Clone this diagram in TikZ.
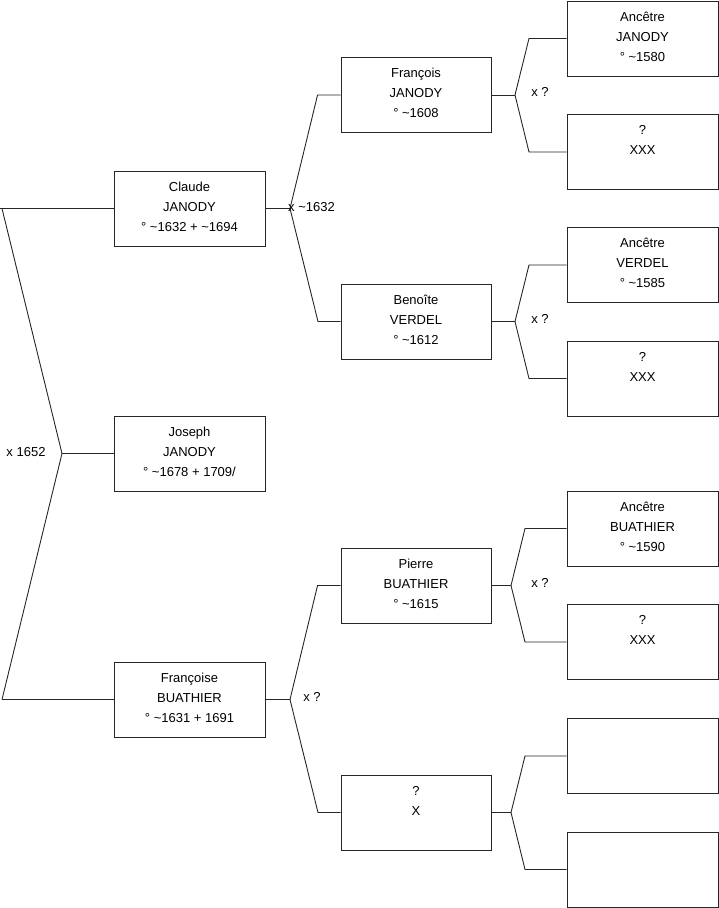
\documentclass[tikz,border=0pt]{standalone}
\usepackage{fontspec}
\setmainfont{Liberation Sans}
\begin{document}
\begin{tikzpicture}[x=1pt,y=-1pt,
  person/.style={draw=black!85, line width=0.9pt, rectangle, minimum width=151pt, minimum height=75pt, align=center, inner sep=0pt, text depth=4pt, font=\fontsize{13}{20}\selectfont},
  link/.style={draw=black!85, line width=0.9pt},
  lbl/.style={font=\fontsize{13}{15}\selectfont, inner sep=0pt}]
\useasboundingbox (0,0) rectangle (719,908);
% generation 1
\node[person] (claude) at (189.5,208.5) {Claude\\JANODY\\° \textasciitilde1632 + \textasciitilde1694};
\node[person] (joseph) at (189.5,453.5) {Joseph\\JANODY\\° \textasciitilde1678 + 1709/};
\node[person] (francoise) at (189.5,699.5) {Françoise\\BUATHIER\\° \textasciitilde1631 + 1691};
% generation 2
\node[person, minimum width=150pt] (francois) at (416,95) {François\\JANODY\\° \textasciitilde1608};
\node[person, minimum width=150pt] (benoite) at (416,321.5) {Benoîte\\VERDEL\\° \textasciitilde1612};
\node[person, minimum width=150pt] (pierre) at (416,585.5) {Pierre\\BUATHIER\\° \textasciitilde1615};
\node[person, minimum width=150pt] (x) at (416,812.5) {?\\X\\\mbox{}};
% generation 3
\node[person] (a1) at (642.5,38.5) {Ancêtre\\JANODY\\° \textasciitilde1580};
\node[person] (a2) at (642.5,152) {?\\XXX\\\mbox{}};
\node[person] (a3) at (642.5,265) {Ancêtre\\VERDEL\\° \textasciitilde1585};
\node[person] (a4) at (642.5,378.5) {?\\XXX\\\mbox{}};
\node[person] (a5) at (642.5,528.5) {Ancêtre\\BUATHIER\\° \textasciitilde1590};
\node[person] (a6) at (642.5,642) {?\\XXX\\\mbox{}};
\node[person] (a7) at (642.5,756) {};
\node[person] (a8) at (642.5,869.5) {};
% root fork
\coordinate (f0) at (62,453.5);
\coordinate (f0a) at (2,208.5);
\coordinate (f0b) at (2,699.5);
\draw[link] (claude.west) -- (0,208.5);
\draw[link] (f0a) -- (f0) -- (f0b);
\draw[link] (f0b) -- (francoise.west);
\draw[link] (f0) -- (joseph.west);
\node[lbl] (l0) at (26,452) {x 1652};
% Claude fork
\coordinate (f1) at (290,208.5);
\draw[link] (claude.east) -- (f1);
\draw[link] (francois.west) -- ++(-23,0) coordinate (f1a) -- (f1) -- (318,321.5) -- (benoite.west);
\node[lbl, anchor=west] (l1) at (288,207.5) {x \textasciitilde1632};
% Françoise fork
\coordinate (f2) at (290,699.5);
\draw[link] (francoise.east) -- (f2);
\draw[link] (pierre.west) -- ++(-23,0) -- (f2) -- (318,812.5) -- (x.west);
\node[lbl] (l2) at (312,697) {x ?};
% François fork
\coordinate (f3) at (515,95);
\draw[link] (francois.east) -- (f3);
\draw[link] (a1.west) -- (529,38.5) -- (f3) -- (529,152) -- (a2.west);
\node[lbl] (l3) at (540,92) {x ?};
% Benoîte fork
\coordinate (f4) at (515,321.5);
\draw[link] (benoite.east) -- (f4);
\draw[link] (a3.west) -- (529,265) -- (f4) -- (529,378.5) -- (a4.west);
\node[lbl] (l4) at (540,319) {x ?};
% Pierre fork
\coordinate (f5) at (511,585.5);
\draw[link] (pierre.east) -- (f5);
\draw[link] (a5.west) -- (525,528.5) -- (f5) -- (525,642) -- (a6.west);
\node[lbl] (l5) at (540,583) {x ?};
% X fork
\coordinate (f6) at (511,812.5);
\draw[link] (x.east) -- (f6);
\draw[link] (a7.west) -- (525,756) -- (f6) -- (525,869.5) -- (a8.west);
\end{tikzpicture}
\end{document}
